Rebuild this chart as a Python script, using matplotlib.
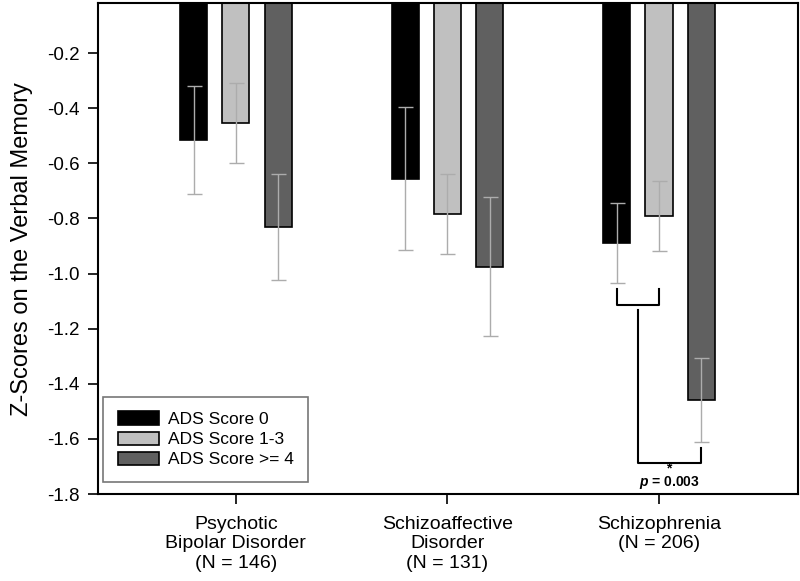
import matplotlib.pyplot as plt
import numpy as np

plt.rcParams['font.family'] = ['Liberation Sans', 'DejaVu Sans']
plt.rcParams['mathtext.fontset'] = 'custom'
plt.rcParams['mathtext.rm'] = 'Liberation Sans:bold'
plt.rcParams['mathtext.bfit'] = 'Liberation Sans:italic:bold'

groups = ["Psychotic\nBipolar Disorder\n(N = 146)", "Schizoaffective\nDisorder\n(N = 131)", "Schizophrenia\n(N = 206)"]
labels = ["ADS Score 0", "ADS Score 1-3", "ADS Score >= 4"]
colors = ["#000000", "#c0c0c0", "#606060"]

score0 = [-0.515, -0.655, -0.89]
score0_err = [0.195, 0.258, 0.145]
score13 = [-0.455, -0.785, -0.79]
score13_err = [0.145, 0.145, 0.127]
score4 = [-0.83, -0.975, -1.46]
score4_err = [0.192, 0.252, 0.152]

fig = plt.figure(figsize=(8, 5.81), dpi=100)
ax = fig.add_axes([0.1225, 0.1497, 0.875, 0.8451])

x = np.arange(1, 4)
w = 0.128
off = 0.2
series = [(score0, score0_err), (score13, score13_err), (score4, score4_err)]
for i, (vals, errs) in enumerate(series):
    xs = x + (i - 1) * off
    ax.bar(xs, vals, w, color=colors[i], edgecolor="black", linewidth=1.2, label=labels[i], zorder=2)
    ax.errorbar(xs, vals, yerr=errs, fmt="none", ecolor="#acacac", elinewidth=1, capsize=5.4, capthick=1, zorder=3)

ax.set_xlim(0.348, 3.657)
ax.set_ylim(-1.8, -0.018)
ax.set_yticks([-0.2, -0.4, -0.6, -0.8, -1.0, -1.2, -1.4, -1.6, -1.8])
ax.set_yticklabels(["-0.2", "-0.4", "-0.6", "-0.8", "-1.0", "-1.2", "-1.4", "-1.6", "-1.8"])
ax.set_xticks(x)
ax.set_xticklabels(groups, linespacing=1.17, fontsize=14)
ax.tick_params(axis="both", direction="out", length=7, width=1.2, color="black")
ax.tick_params(axis="y", labelsize=13.5, pad=6)
ax.tick_params(axis="x", pad=9)
for s in ax.spines.values():
    s.set_linewidth(1.5)
ax.set_ylabel("Z-Scores on the Verbal Memory", fontsize=17)
ax.yaxis.set_label_coords(-0.093, 0.499)

# significance brackets
ax.plot([2.8, 2.8, 3.0, 3.0], [-1.055, -1.113, -1.113, -1.055], color="black", lw=1.5, zorder=4)
ax.plot([2.9, 2.9, 3.2, 3.2], [-1.131, -1.686, -1.686, -1.632], color="black", lw=1.5, zorder=4)
ax.text(3.047, -1.736, "*\n" + r"$\boldsymbol{p}$ = 0.003", ha="center", va="center",
        fontsize=10, fontweight="bold", linespacing=0.85)

leg = ax.legend(loc="lower left", bbox_to_anchor=(0.007, 0.024), fontsize=12.5, frameon=True, fancybox=False,
                edgecolor="#555555", labelspacing=0.26, handlelength=2.36, handleheight=0.8,
                borderpad=0.85, handletextpad=0.52, borderaxespad=0)
leg.get_frame().set_linewidth(1.2)

fig.savefig("out.png", dpi=100)
